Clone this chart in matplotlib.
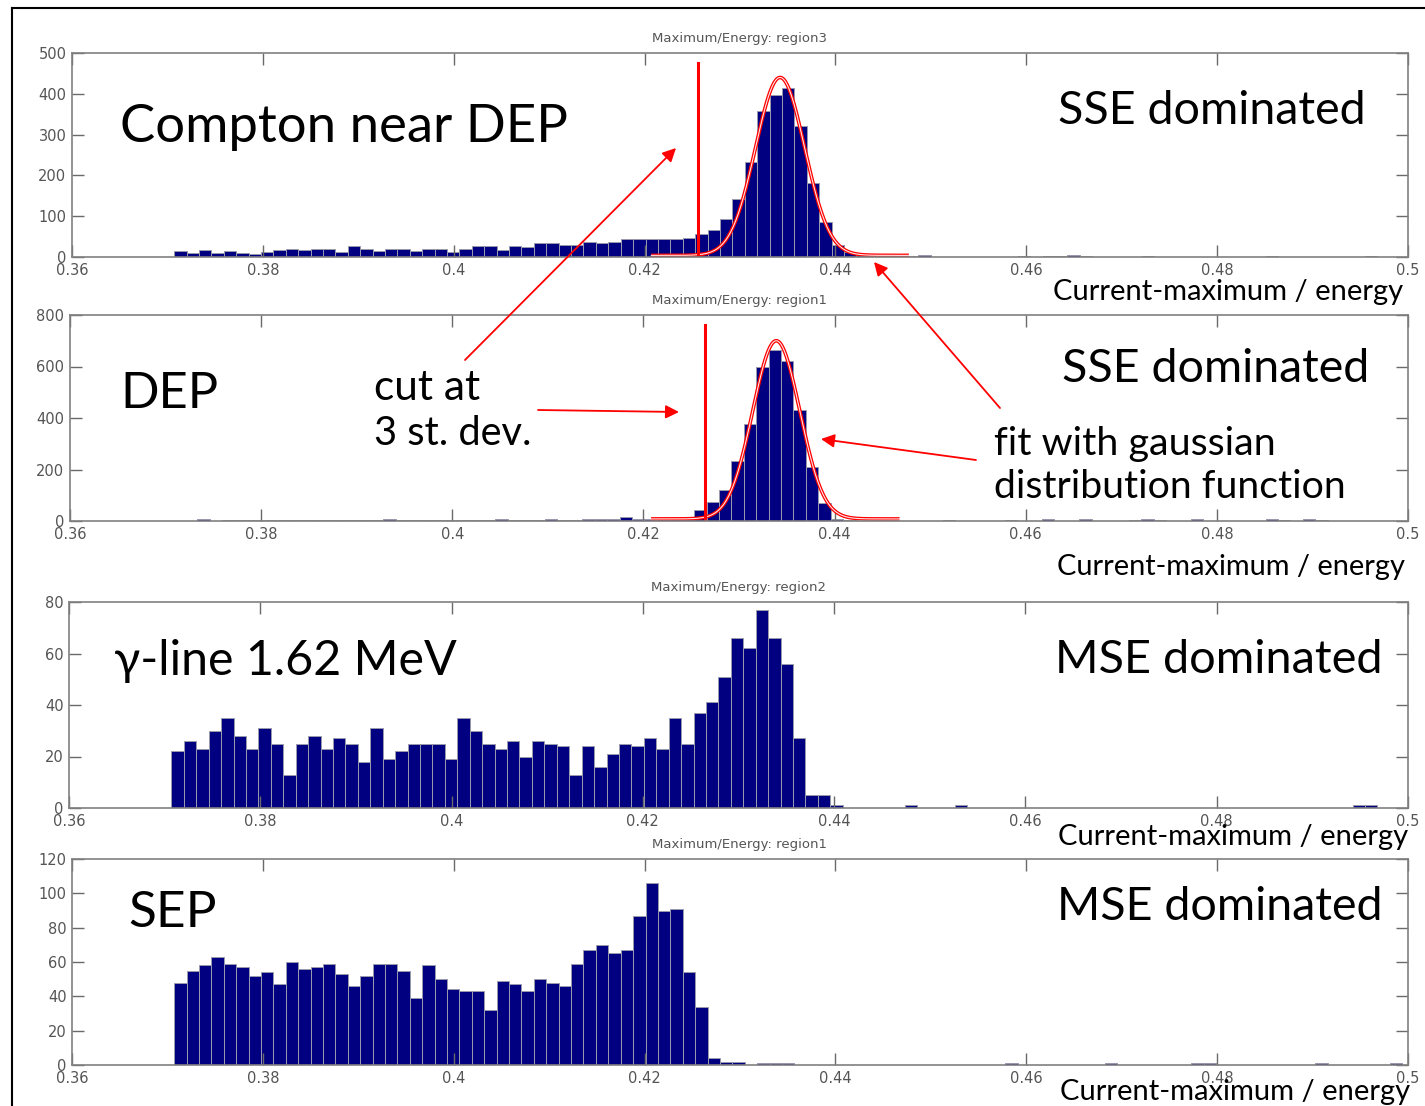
import numpy as np
import matplotlib.pyplot as plt
from matplotlib.lines import Line2D
from matplotlib.patches import FancyArrowPatch

plt.rcParams['font.family'] = ['Liberation Sans Narrow', 'DejaVu Sans']

# histogram binning (100 bins from the data minimum)
bin_lo = 0.3707
bin_w = 0.0013
n_bins = 100

# counts per bin, starting at bin 0; sparse outliers kept separately {bin: count}
compton = [15, 11, 16, 11, 14, 11, 8, 12, 16, 20, 16, 20, 20, 13, 26, 20, 15, 19, 19, 15,
           20, 20, 12, 20, 26, 26, 18, 26, 25, 34, 34, 29, 30, 37, 35, 37, 45, 45, 45, 45,
           45, 47, 57, 67, 94, 142, 232, 357, 398, 414, 320, 182, 86, 29, 12, 6, 3, 2]
compton_tail = {59: 3, 60: 4, 68: 2, 70: 2, 71: 3, 72: 4, 73: 3, 78: 2, 88: 2, 96: 2}

dep = [0, 0, 6, 0, 3, 3, 2, 3, 3, 4, 5, 2, 3, 5, 3, 5, 5, 7, 3, 4,
       4, 4, 4, 4, 4, 5, 6, 4, 3, 5, 8, 5, 5, 8, 6, 6, 14, 6, 6, 6,
       6, 13, 43, 75, 120, 234, 377, 600, 664, 623, 431, 208, 69, 9, 3]
dep_tail = {62: 5, 67: 5, 70: 6, 73: 6, 77: 5, 78: 6, 79: 5, 82: 6, 88: 6, 89: 5, 91: 6, 92: 5}

gamma = [22, 26, 23, 30, 35, 28, 23, 31, 25, 13, 25, 28, 23, 27, 25, 18, 31, 19, 22, 25,
         25, 25, 19, 35, 30, 25, 23, 26, 20, 26, 25, 24, 13, 24, 16, 21, 25, 24, 27, 23,
         35, 25, 37, 41, 51, 66, 62, 77, 66, 56, 27, 5, 5, 1]
gamma_tail = {59: 1, 63: 1, 95: 1, 96: 1}

sep = [48, 55, 58, 63, 59, 57, 52, 54, 47, 60, 56, 57, 59, 53, 46, 52, 59, 59, 55, 39,
       58, 50, 44, 43, 43, 32, 49, 47, 43, 50, 48, 46, 59, 67, 70, 65, 67, 87, 106, 90,
       91, 54, 34, 4, 2, 2, 0, 1, 1, 1]
sep_tail = {67: 1, 75: 1, 82: 1, 83: 1, 92: 1, 98: 1}

# gaussian fits (centre, sigma, amplitude, background, x-range) and 3 sigma cuts
fit_compton = (0.4342, 0.00257, 436, 4, 0.4207, 0.4477)
fit_dep = (0.4339, 0.00246, 692, 8, 0.4208, 0.4468)
cut_compton = (0.4256, 475)
cut_dep = (0.4264, 762)

W, H = 1425, 1106
fig = plt.figure(figsize=(W / 100, H / 100), dpi=100)


def rect(l, r, t, b):
    return [l / W, 1 - b / H, (r - l) / W, (b - t) / H]


panels = [
    (rect(72, 1408, 53, 257), compton, compton_tail, 500, 100, 'region3'),
    (rect(70, 1408, 315, 521), dep, dep_tail, 800, 200, 'region1'),
    (rect(69, 1408, 602, 808), gamma, gamma_tail, 80, 20, 'region2'),
    (rect(72, 1408, 859, 1065), sep, sep_tail, 120, 20, 'region1'),
]

gray = '#6a6a6a'
axes = []
for pos, main, tail, ymax, ystep, reg in panels:
    ax = fig.add_axes(pos)
    counts = np.zeros(n_bins)
    counts[:len(main)] = main
    for k, v in tail.items():
        counts[k] = v
    left = bin_lo + bin_w * np.arange(n_bins)
    nz = counts > 0
    ax.bar(left[nz], counts[nz], width=bin_w, align='edge', color='#000080',
           edgecolor='#9a9aae', linewidth=0.7)
    ax.set_xlim(0.36, 0.5)
    ax.set_ylim(0, ymax)
    ax.set_xticks(np.arange(0.36, 0.501, 0.02))
    ax.set_xticklabels(['0.36', '0.38', '0.4', '0.42', '0.44', '0.46', '0.48', '0.5'])
    ax.set_yticks(np.arange(0, ymax + 1, ystep))
    ax.tick_params(direction='in', length=8.5, width=1, color=gray, labelcolor='#555555',
                   labelsize=10.5, top=True, right=True, pad=4)
    for s in ax.spines.values():
        s.set_color('#808080')
        s.set_linewidth(1.2)
    ax.set_title('Maximum/Energy: ' + reg, fontsize=9.5, color='#555555', pad=8)
    axes.append(ax)

# fits and cuts
for ax, fit, cut in [(axes[0], fit_compton, cut_compton), (axes[1], fit_dep, cut_dep)]:
    mu, sig, amp, bg, x0, x1 = fit
    xs = np.linspace(x0, x1, 300)
    ys = bg + amp * np.exp(-0.5 * ((xs - mu) / sig) ** 2)
    ax.plot(xs, ys, color='red', lw=2.6, solid_capstyle='butt')
    ax.plot(xs, ys, color='white', lw=0.8, alpha=0.9)
    ax.plot([cut[0], cut[0]], [0, cut[1]], color='red', lw=2.2)

# outer frame
fig.add_artist(Line2D([12 / W, 1], [1 - 8 / H, 1 - 8 / H], color='black', lw=1.5))
fig.add_artist(Line2D([12 / W, 12 / W], [0, 1 - 8 / H], color='black', lw=1.5))

renderer = fig.canvas.get_renderer()
big = ['Lato', 'DejaVu Sans']


def label(x, y, s, w):
    t = fig.text(x / W, 1 - y / H, s, ha='left', va='baseline', family=big, fontsize=30)
    bb = t.get_window_extent(renderer)
    t.set_fontsize(30 * w / bb.width)


label(120, 142, 'Compton near DEP', 447)
label(1058, 124, 'SSE dominated', 308)
label(1053, 300, 'Current-maximum / energy', 350)
label(120, 408, 'DEP', 98)
label(374, 400, 'cut at', 106)
label(374, 445, '3 st. dev.', 157)
label(1062, 382, 'SSE dominated', 307)
label(994, 455, 'fit with gaussian', 282)
label(994, 498, 'distribution function', 351)
label(1057, 575, 'Current-maximum / energy', 348)
label(114, 675, 'γ-line 1.62 MeV', 343)
label(1055, 673, 'MSE dominated', 327)
label(1058, 845, 'Current-maximum / energy', 350)
label(128, 927, 'SEP', 88)
label(1057, 920, 'MSE dominated', 326)
label(1060, 1100, 'Current-maximum / energy', 350)

# red arrows (tail -> head), figure pixels from top-left, drawn above all panels
arrows = [((465, 360), (676, 148)),
          ((538, 410), (679, 412)),
          ((1000, 408), (874, 262)),
          ((976, 460), (821, 439))]
for (tx, ty), (hx, hy) in arrows:
    fig.add_artist(FancyArrowPatch((tx / W, 1 - ty / H), (hx / W, 1 - hy / H),
                                   transform=fig.transFigure, arrowstyle='-|>',
                                   mutation_scale=20, color='red', lw=1.3,
                                   shrinkA=0, shrinkB=0, zorder=10))

fig.savefig('out.png', dpi=100)
